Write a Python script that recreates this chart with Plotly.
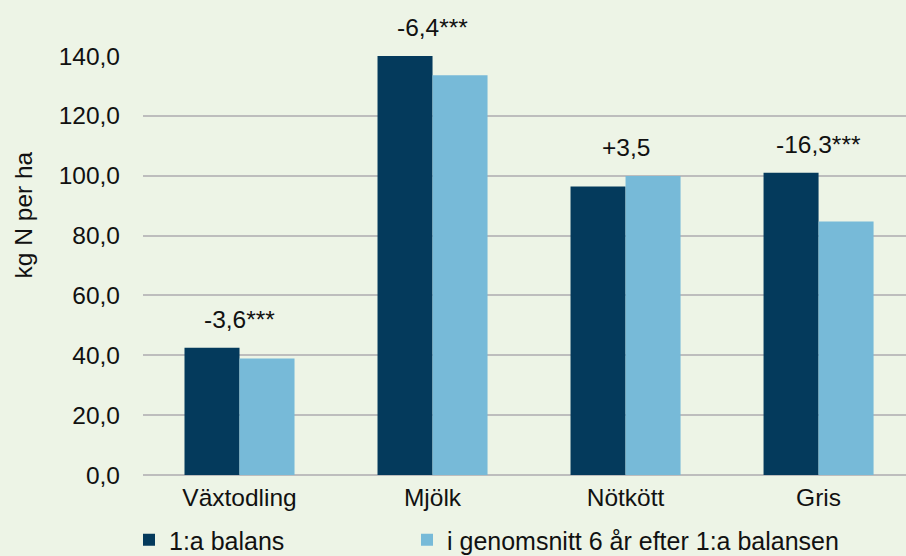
import plotly.graph_objects as go

categories = ["Växtodling", "Mjölk", "Nötkött", "Gris"]
first_balance = [42.5, 140.0, 96.4, 101.0]
after_six_years = [38.9, 133.6, 99.9, 84.7]
change_labels = ["-3,6***", "-6,4***", "+3,5", "-16,3***"]
series_names = ["1:a balans", "i genomsnitt 6 år efter 1:a balansen"]
y_ticks = [0, 20, 40, 60, 80, 100, 120, 140]
y_tick_text = ["0,0", "20,0", "40,0", "60,0", "80,0", "100,0", "120,0", "140,0"]

BG = "#edf4e6"
DARK = "#043a5c"
LIGHT = "#77bad8"
FONT = "Liberation Sans"
FS = 24.5
TXT = "#111111"

fig = go.Figure()
fig.add_trace(go.Bar(x=categories, y=first_balance, name=series_names[0],
                     marker=dict(color=DARK, line=dict(width=0)), legend="legend"))
fig.add_trace(go.Bar(x=categories, y=after_six_years, name=series_names[1],
                     marker=dict(color=LIGHT, line=dict(width=0)), legend="legend2"))

for cat, a, b, lab in zip(categories, first_balance, after_six_years, change_labels):
    fig.add_annotation(x=cat, y=max(a, b), text=lab, showarrow=False,
                       xref="x", yref="y", yanchor="bottom", yshift=13,
                       font=dict(family=FONT, size=FS, color=TXT))

fig.add_annotation(x=-0.157, y=0.62, xref="paper", yref="paper",
                   text="kg N per ha", textangle=-90, showarrow=False,
                   xanchor="center", yanchor="middle",
                   font=dict(family=FONT, size=FS, color=TXT))

legend_common = dict(orientation="h", xanchor="left", yref="container", xref="container",
                     y=1 - 540 / 556, yanchor="middle",
                     font=dict(family=FONT, size=25, color=TXT),
                     bgcolor="rgba(0,0,0,0)")

fig.update_layout(
    width=906, height=556,
    paper_bgcolor=BG, plot_bgcolor=BG,
    margin=dict(l=143, r=0, t=56, b=81),
    barmode="group", bargap=0.43, bargroupgap=0,
    font=dict(family=FONT, size=FS, color=TXT),
    showlegend=True,
    legend=dict(x=129 / 906, **legend_common),
    legend2=dict(x=407 / 906, **legend_common),
)
fig.update_xaxes(range=[-0.5, 3.453], showgrid=False, showline=False, zeroline=False,
                 ticks="", ticklabelstandoff=5, tickfont=dict(size=FS))
fig.update_yaxes(range=[0, 140], tickvals=y_ticks, ticktext=y_tick_text,
                 showgrid=True, gridcolor="#bdbdbd", gridwidth=1.5,
                 zeroline=True, zerolinecolor="#bdbdbd", zerolinewidth=1.5,
                 showline=False, ticks="", ticklabelstandoff=22, tickfont=dict(size=FS))

fig.write_html("out.html", config={"displayModeBar": False},
               post_script="document.body.style.margin='0';document.body.style.overflow='hidden';")
